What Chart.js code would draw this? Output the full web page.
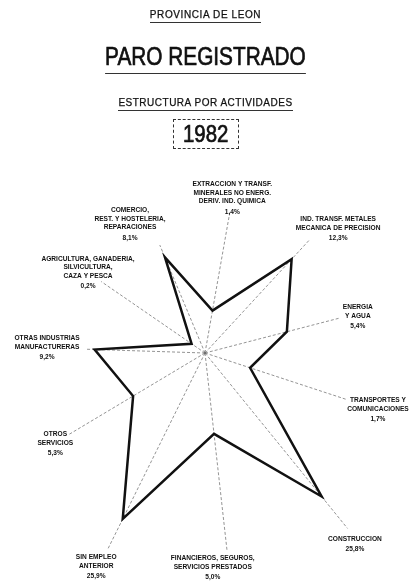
<!DOCTYPE html>
<html lang="es">
<head>
<meta charset="utf-8">
<title>Paro registrado 1982 - Provincia de León</title>
<script src="https://cdn.jsdelivr.net/npm/chart.js@4.4.0/dist/chart.umd.min.js"></script>
<style>
  body { margin: 0; background: #fff; color: #111; font-family: "Liberation Sans", Arial, sans-serif; }
  #page { position: relative; width: 411px; height: 583px; overflow: hidden; }
  #caja { position: absolute; left: 0; top: 0; width: 411px; height: 583px; }
  .t { position: absolute; left: 0; width: 411px; text-align: center; white-space: nowrap; -webkit-text-stroke: 0.25px #111; }
  .t span { display: inline-block; }
  #prov { top: 9px; font-size: 10px; letter-spacing: 0.6px; }
  #prov span { border-bottom: 1px solid #333; padding-bottom: 2px; }
  #paro { top: 43px; font-size: 26px; line-height: 26px; -webkit-text-stroke: 0.7px #111; }
  #paro span { transform: scaleX(0.8); border-bottom: 1px solid #333; padding-bottom: 4px; }
  #estr { top: 97px; font-size: 10px; letter-spacing: 0.5px; }
  #estr span { border-bottom: 1px solid #333; padding-bottom: 2px; }
  #anio { top: 119px; -webkit-text-stroke: 0.7px #111; }
  #anio span { width: 64px; height: 28px; border: 1px dashed #333; font-size: 24px; line-height: 28px; }
  #anio b { display: inline-block; font-weight: normal; transform: scaleX(0.85); }
</style>
</head>
<body>
<div id="page">
  <div id="caja"><canvas id="grafico"></canvas></div>
  <div class="t" id="prov"><span>PROVINCIA DE LEON</span></div>
  <div class="t" id="paro"><span>PARO REGISTRADO</span></div>
  <div class="t" id="estr"><span>ESTRUCTURA POR ACTIVIDADES</span></div>
  <div class="t" id="anio"><span><b>1982</b></span></div>
</div>
<script>
// actividades, en el sentido de las agujas del reloj desde arriba
const actividades = [
  ["EXTRACCION Y TRANSF.", "MINERALES NO ENERG.", "DERIV. IND. QUIMICA"],
  ["IND. TRANSF. METALES", "MECANICA DE PRECISION"],
  ["ENERGIA", "Y AGUA"],
  ["TRANSPORTES Y", "COMUNICACIONES"],
  ["CONSTRUCCION"],
  ["FINANCIEROS, SEGUROS,", "SERVICIOS PRESTADOS"],
  ["SIN EMPLEO", "ANTERIOR"],
  ["OTROS", "SERVICIOS"],
  ["OTRAS INDUSTRIAS", "MANUFACTURERAS"],
  ["AGRICULTURA, GANADERIA,", "SILVICULTURA,", "CAZA Y PESCA"],
  ["COMERCIO,", "REST. Y HOSTELERIA,", "REPARACIONES"]
];
const porcentajes = [1.4, 12.3, 5.4, 1.7, 25.8, 5.0, 25.9, 5.3, 9.2, 0.2, 8.1];
const textoPct = porcentajes.map(v => v.toFixed(1).replace(".", ",") + "%");

// largo de cada radio y donde va su rotulo
const largoRadio = [144, 155, 140, 149, 226, 198, 219, 158, 120, 126, 117];
const radioRotulo = [157, 182, 157, 182, 243, 215, 240, 175, 158, 142, 149];
const giroRotulo = [0, 4.3, 1.3, 0, 1, 4.3, 0.6, -0.3, 0, 0, -7.5];

// escala radial en raiz cuadrada (el area crece con el valor)
class EscalaRaiz extends Chart.RadialLinearScale {
  getDistanceFromCenterForValue(value) {
    if (value === null || value === undefined) return NaN;
    const t = Math.max(0, (value - this.min) / (this.max - this.min));
    return this.drawingArea * Math.sqrt(t);
  }
}
EscalaRaiz.id = "raizRadial";
EscalaRaiz.defaults = Chart.RadialLinearScale.defaults;
Chart.register(EscalaRaiz);

const radios = {
  id: "radios",
  beforeDatasetsDraw(chart) {
    const r = chart.scales.r;
    const ctx = chart.ctx;
    ctx.save();
    ctx.strokeStyle = "#666";
    ctx.lineWidth = 0.7;
    ctx.setLineDash([3, 2]);
    largoRadio.forEach((len, i) => {
      const p = r.getPointPosition(i, len);
      ctx.beginPath();
      ctx.moveTo(r.xCenter, r.yCenter);
      ctx.lineTo(p.x, p.y);
      ctx.stroke();
    });
    ctx.restore();
  }
};

const rotulos = {
  id: "rotulos",
  afterDraw(chart) {
    const r = chart.scales.r;
    const ctx = chart.ctx;
    ctx.save();
    ctx.fillStyle = "#111";
    ctx.font = "bold 6.6px 'Liberation Sans', Arial, sans-serif";
    ctx.textAlign = "center";
    ctx.textBaseline = "middle";
    actividades.forEach((lineas, i) => {
      const p = r.getPointPosition(i, radioRotulo[i], giroRotulo[i] * Math.PI / 180);
      const alto = lineas.length * 8.5 + 2;
      let y = p.y - alto / 2;
      lineas.forEach((l, j) => ctx.fillText(l, p.x, y + j * 8.5));
      ctx.fillText(textoPct[i], p.x, y + lineas.length * 8.5 + 2);
    });
    ctx.restore();
  }
};

new Chart(document.getElementById("grafico"), {
  type: "radar",
  data: {
    labels: actividades.map(a => a.join(" ")),
    datasets: [{
      data: porcentajes,
      borderColor: "#111",
      borderWidth: 2.5,
      backgroundColor: "rgba(0,0,0,0)",
      fill: false,
      pointRadius: 0,
      tension: 0,
      clip: false
    }]
  },
  options: {
    responsive: true,
    maintainAspectRatio: false,
    animation: false,
    layout: { padding: { left: 23, right: 23, top: 171, bottom: 47 } },
    plugins: { legend: { display: false }, tooltip: { enabled: false } },
    scales: {
      r: {
        type: "raizRadial",
        min: 0,
        max: 25,
        startAngle: 10,
        grid: { display: false },
        angleLines: { display: false },
        ticks: { display: false },
        pointLabels: { display: false }
      }
    }
  },
  plugins: [radios, rotulos]
});
</script>
</body>
</html>
